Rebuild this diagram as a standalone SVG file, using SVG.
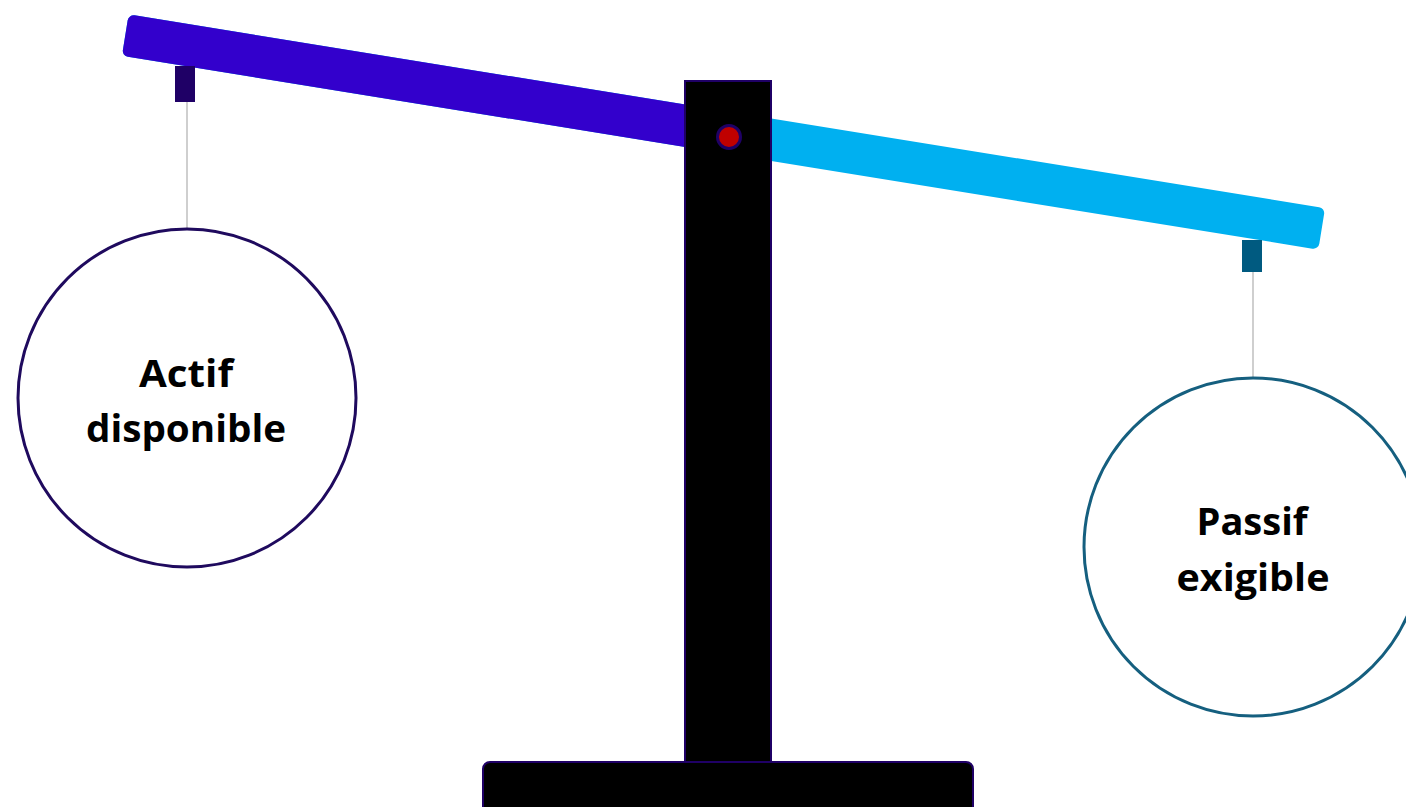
<svg xmlns="http://www.w3.org/2000/svg" width="1406" height="807" viewBox="0 0 1406 807">
<style>
.lbl{font-family:"Open Sans","Noto Sans",sans-serif;font-weight:700;font-size:37px;fill:#000;text-anchor:middle}
.cord{stroke:#BFBFBF;stroke-width:1.5}
</style>
<rect width="1406" height="807" fill="#fff"/>
<g id="beam" transform="rotate(9.2 723.5 132)">
<rect x="117.5" y="111" width="1212" height="42" rx="6" fill="#00B0F0"/>
<path d="M123.5 111 H723.5 V153 H123.5 A6 6 0 0 1 117.5 147 V117 A6 6 0 0 1 123.5 111 Z" fill="#3300CC"/>
</g>
<g id="connectors">
<line class="cord" x1="187" y1="102" x2="187" y2="228"/>
<line class="cord" x1="1253" y1="272" x2="1253" y2="377"/>
</g>
<g id="hanger-left"><rect x="175" y="66" width="20" height="36" fill="#1F0066"/></g>
<g id="hanger-right"><rect x="1242" y="240" width="20" height="32" fill="#005A80"/></g>
<g id="actif">
<circle cx="187" cy="398" r="169" fill="#fff" stroke="#1F0A5E" stroke-width="3"/>
<text class="lbl" x="186" y="387" textLength="94" lengthAdjust="spacingAndGlyphs">Actif</text>
<text class="lbl" x="186" y="442" textLength="200" lengthAdjust="spacingAndGlyphs">disponible</text>
</g>
<g id="passif">
<circle cx="1253" cy="547" r="169" fill="#fff" stroke="#155F7F" stroke-width="3"/>
<text class="lbl" x="1252" y="535" textLength="111" lengthAdjust="spacingAndGlyphs">Passif</text>
<text class="lbl" x="1253" y="591" textLength="153" lengthAdjust="spacingAndGlyphs">exigible</text>
</g>
<g id="post">
<rect x="685" y="81" width="86" height="684" fill="#000" stroke="#1F0066" stroke-width="2"/>
</g>
<g id="base">
<rect x="483" y="762" width="490" height="60" rx="7" fill="#000" stroke="#1F0066" stroke-width="2"/>
</g>
<g id="pivot">
<circle cx="729" cy="137" r="11.5" fill="#C00000" stroke="#1F0066" stroke-width="3"/>
</g>
</svg>
